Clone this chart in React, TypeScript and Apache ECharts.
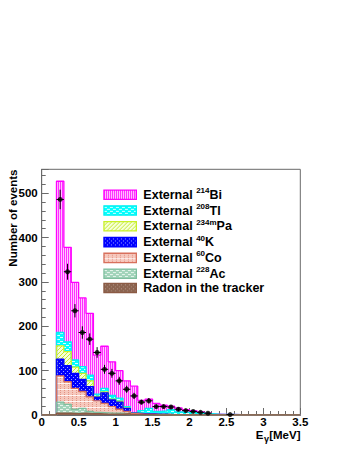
import React, { useEffect, useRef } from 'react';
import * as echarts from 'echarts';

const FONT = '"Liberation Sans", Arial, Helvetica, sans-serif';

// histogram bins (lower edges, MeV), width 0.1
const binLow = [0.2, 0.3, 0.4, 0.5, 0.6, 0.7, 0.8, 0.9, 1.0, 1.1, 1.2, 1.3, 1.4, 1.5, 1.6, 1.7, 1.8, 1.9, 2.0, 2.1, 2.2, 2.3, 2.4, 2.5, 2.6];
const binHigh = 2.7;
const axisStart = 0;
const axisEnd = 3.5;

// individual MC components (events per bin), bottom of stack first
const radon = [4, 4, 3, 4, 3, 3, 2, 2, 2, 3, 1, 1, 1, 0, 0, 0, 0, 0, 0, 0, 0, 0, 0, 0, 0];
const ac228 = [25, 20, 10, 11, 5, 3, 3, 2, 2, 0, 0, 0, 0, 1, 1, 0, 0, 0, 0, 0, 0, 0, 0, 0, 0];
const co60 = [59, 51, 47, 38, 33, 26, 21, 15, 9, 5, 2, 1, 1, 0, 0, 1, 1, 1, 0, 0, 0, 0, 0, 0, 0];
const k40 = [38, 36, 34, 27, 23, 8, 24, 15, 16, 7, 1, 1, 1, 1, 1, 0, 0, 0, 1, 0, 0, 0, 0, 0, 0];
const pa234m = [30, 32, 14, 14, 13, 2, 2, 2, 2, 1, 0, 0, 0, 0, 0, 0, 0, 0, 0, 0, 0, 0, 0, 0, 0];
const tl208 = [30, 22, 16, 15, 13, 5, 8, 8, 7, 3, 1, 7, 12, 6, 7, 11, 6, 5, 5, 4, 3, 2, 1.5, 1.5, 1];
const bi214 = [341, 213, 175, 155, 139, 88, 95, 76, 62, 58, 60, 23, 21, 18, 13, 8, 9, 6, 4, 3, 1, 0, 0, 0, 0];

// data points
const dataX = [0.25, 0.35, 0.45, 0.55, 0.65, 0.75, 0.85, 0.95, 1.05, 1.15, 1.25, 1.35, 1.45, 1.55, 1.65, 1.75, 1.85, 1.95, 2.05, 2.15, 2.25, 2.55];
const dataY = [486, 323, 235, 186, 171, 141, 103, 94, 77, 58, 43, 29, 32, 19, 19, 18, 13, 10, 8, 6, 4, 1];
const dataErr = [22, 18, 15, 14, 13, 12, 10, 10, 9, 8, 7, 5, 6, 4, 4, 4, 4, 3, 3, 2, 2, 1];
const dataXErr = 0.05;

const yMax = 554;

const legendNames = ['Bi214', 'Tl208', 'Pa234m', 'K40', 'Co60', 'Ac228', 'Radon'];
const legendLabels: Record<string, string> = {
  Bi214: '{a|External }{s|214}{a|Bi}',
  Tl208: '{a|External }{s|208}{a|Tl}',
  Pa234m: '{a|External }{s|234m}{a|Pa}',
  K40: '{a|External }{s|40}{a|K}',
  Co60: '{a|External }{s|60}{a|Co}',
  Ac228: '{a|External }{s|228}{a|Ac}',
  Radon: '{a|Radon in the tracker}',
};

const xTitleMain = 'E';
const xTitleSub = 'γ';
const xTitleUnit = '[MeV]';
const yTitle = 'Number of events';

function makePattern(w: number, h: number, bg: string, dots: [number, number, number, number, string][]) {
  const c = document.createElement('canvas');
  c.width = w;
  c.height = h;
  const g = c.getContext('2d')!;
  g.fillStyle = bg;
  g.fillRect(0, 0, w, h);
  dots.forEach(([x, y, dw, dh, col]) => {
    g.fillStyle = col;
    g.fillRect(x, y, dw, dh);
  });
  return { image: c.toDataURL(), repeat: 'repeat', imageWidth: w, imageHeight: h };
}

function measure(font: string, text: string) {
  const ctx = document.createElement('canvas').getContext('2d')!;
  ctx.font = font;
  return ctx.measureText(text).width;
}

export default function App() {
  const ref = useRef<HTMLDivElement>(null);
  useEffect(() => {
    const chart = echarts.init(ref.current!, null, { renderer: 'svg' });

    const pats: Record<string, any> = {
      Bi214: makePattern(2, 1, '#ff30ff', [[1, 0, 1, 1, '#ffc4ff']]),
      Tl208: makePattern(6, 4, '#00ffff', [[0, 1, 3, 1, '#d8ffff'], [3, 3, 3, 1, '#d8ffff']]),
      Pa234m: makePattern(4, 4, '#f6ffd8', [[3, 0, 1, 1, '#c6ea2e'], [2, 1, 1, 1, '#c6ea2e'], [1, 2, 1, 1, '#c6ea2e'], [0, 3, 1, 1, '#c6ea2e']]),
      K40: makePattern(4, 4, '#0000ff', [[1, 1, 1, 1, '#9aa0ff'], [3, 3, 1, 1, '#9aa0ff']]),
      Co60: makePattern(4, 6, '#f6c8bd', [[0, 0, 1, 1, '#e39282'], [0, 2, 1, 1, '#e39282'], [0, 4, 1, 1, '#e39282'], [0, 5, 4, 1, '#fff4f2']]),
      Ac228: makePattern(6, 4, '#a2d3ba', [[0, 1, 3, 1, '#e6f5ec'], [3, 3, 3, 1, '#e6f5ec']]),
      Radon: makePattern(4, 4, '#8c6450', [[1, 1, 1, 1, '#b8988a'], [3, 3, 1, 1, '#a88676']]),
    };
    const lineCols: Record<string, string> = {
      Bi214: '#ff00ff',
      Tl208: '#00f0f0',
      Pa234m: '#c8f028',
      K40: '#0000ff',
      Co60: '#d8705c',
      Ac228: '#7fbf9f',
      Radon: '#8b5a44',
    };

    // stack components bottom -> top and build cumulative sums
    const stackOrder: [string, number[]][] = [
      ['Radon', radon],
      ['Ac228', ac228],
      ['Co60', co60],
      ['K40', k40],
      ['Pa234m', pa234m],
      ['Tl208', tl208],
      ['Bi214', bi214],
    ];
    const cumulative: Record<string, number[]> = {};
    let running = binLow.map(() => 0);
    stackOrder.forEach(([name, vals]) => {
      running = running.map((r, k) => r + vals[k]);
      cumulative[name] = running.slice();
    });

    const stepData = (vals: number[]) => [
      [axisStart, 0],
      ...binLow.map((x, k) => [x, vals[k]]),
      [binHigh, 0],
      [axisEnd, 0],
    ];

    // draw largest cumulative first (like ROOT THStack)
    const histSeries = [...stackOrder].reverse().map(([name]) => ({
      type: 'line',
      name,
      data: stepData(cumulative[name]),
      step: 'end',
      symbol: 'none',
      showSymbol: false,
      silent: true,
      lineStyle: { color: lineCols[name], width: 1.3 },
      itemStyle: { color: lineCols[name] },
      areaStyle: { color: pats[name], opacity: 1 },
      z: 2,
    }));

    const axisCol = '#6a6a6a';
    const labelStyle = { color: '#000', fontFamily: FONT, fontWeight: 'bold' as const, fontSize: 11.5, lineHeight: 12 };

    const titleFont = `bold 11.5px ${FONT}`;
    const subFont = `bold 9px ${FONT}`;
    const unitW = measure(titleFont, xTitleUnit);
    const subW = measure(subFont, xTitleSub);
    const titleRight = 300.5;
    const titleY = 434.5;

    const option: any = {
      animation: false,
      backgroundColor: '#fff',
      grid: {
        left: 41.7,
        right: 48.7,
        top: 169.3,
        bottom: 36,
        show: true,
        borderColor: axisCol,
        borderWidth: 1,
        outerBoundsMode: 'none',
      },
      xAxis: {
        type: 'value',
        min: axisStart,
        max: axisEnd,
        interval: 0.5,
        axisLine: { show: true, onZero: false, lineStyle: { color: axisCol, width: 1 } },
        axisTick: { show: true, inside: true, length: 7, lineStyle: { color: axisCol } },
        minorTick: { show: true, splitNumber: 5, length: 4, lineStyle: { color: axisCol } },
        splitLine: { show: false },
        axisLabel: { ...labelStyle, margin: 1 },
      },
      yAxis: {
        type: 'value',
        min: 0,
        max: yMax,
        interval: 100,
        axisLine: { show: true, lineStyle: { color: axisCol, width: 1 } },
        axisTick: { show: true, inside: true, length: 7, lineStyle: { color: axisCol } },
        minorTick: { show: true, splitNumber: 5, length: 4, lineStyle: { color: axisCol } },
        splitLine: { show: false },
        axisLabel: { ...labelStyle, margin: 4, showMaxLabel: false },
      },
      legend: {
        orient: 'vertical',
        left: 103.3,
        top: 186.7,
        padding: 0,
        itemWidth: 32.4,
        itemHeight: 9.3,
        itemGap: 1.3,
        selectedMode: false,
        data: legendNames.map((n) => ({
          name: n,
          icon: 'rect',
          itemStyle: { color: pats[n], borderColor: lineCols[n], borderWidth: 1.3 },
        })),
        formatter: (n: string) => legendLabels[n],
        textStyle: {
          color: '#000',
          fontFamily: FONT,
          fontWeight: 'bold',
          fontSize: 12.5,
          padding: [0, 0, 0, 2],
          rich: {
            a: { color: '#000', fontFamily: FONT, fontWeight: 'bold', fontSize: 12.5, lineHeight: 16 },
            s: { color: '#000', fontFamily: FONT, fontWeight: 'bold', fontSize: 8, lineHeight: 8, verticalAlign: 'top' },
          },
        },
      },
      series: [
        ...histSeries,
        {
          type: 'custom',
          name: 'dataErr',
          silent: true,
          z: 5,
          data: dataX.map((x, i) => [x, dataY[i], dataErr[i], dataXErr]),
          encode: { x: 0, y: 1 },
          renderItem: (_p: any, api: any) => {
            const x = api.value(0);
            const y = api.value(1);
            const e = api.value(2);
            const h = api.value(3);
            const t = api.coord([x, y + e]);
            const b = api.coord([x, Math.max(y - e, 0)]);
            const l = api.coord([x - h, y]);
            const r = api.coord([x + h, y]);
            return {
              type: 'group',
              children: [
                { type: 'line', shape: { x1: t[0], y1: t[1], x2: b[0], y2: b[1] }, style: { stroke: '#000', lineWidth: 1 } },
                { type: 'line', shape: { x1: l[0], y1: l[1], x2: r[0], y2: r[1] }, style: { stroke: '#000', lineWidth: 1 } },
              ],
            };
          },
        },
        {
          type: 'scatter',
          name: 'data',
          silent: true,
          z: 6,
          symbol: 'circle',
          symbolSize: 5,
          itemStyle: { color: '#000' },
          data: dataX.map((x, i) => [x, dataY[i]]),
        },
      ],
      graphic: [
        {
          type: 'text',
          x: 13.3,
          y: 169.5,
          rotation: Math.PI / 2,
          style: {
            text: yTitle,
            fill: '#000',
            font: `bold 11.5px ${FONT}`,
            align: 'right',
            verticalAlign: 'middle',
          },
        },
        {
          type: 'text',
          x: titleRight,
          y: titleY,
          style: { text: xTitleUnit, fill: '#000', font: titleFont, align: 'right', verticalAlign: 'middle' },
        },
        {
          type: 'text',
          x: titleRight - unitW - 0.3,
          y: titleY + 4.5,
          style: { text: xTitleSub, fill: '#000', font: subFont, align: 'right', verticalAlign: 'middle' },
        },
        {
          type: 'text',
          x: titleRight - unitW - subW - 0.8,
          y: titleY,
          style: { text: xTitleMain, fill: '#000', font: titleFont, align: 'right', verticalAlign: 'middle' },
        },
      ],
    };

    chart.setOption(option);
    return () => chart.dispose();
  }, []);
  return <div ref={ref} style={{ position: 'absolute', left: 0, top: 0, width: 349, height: 451 }} />;
}
